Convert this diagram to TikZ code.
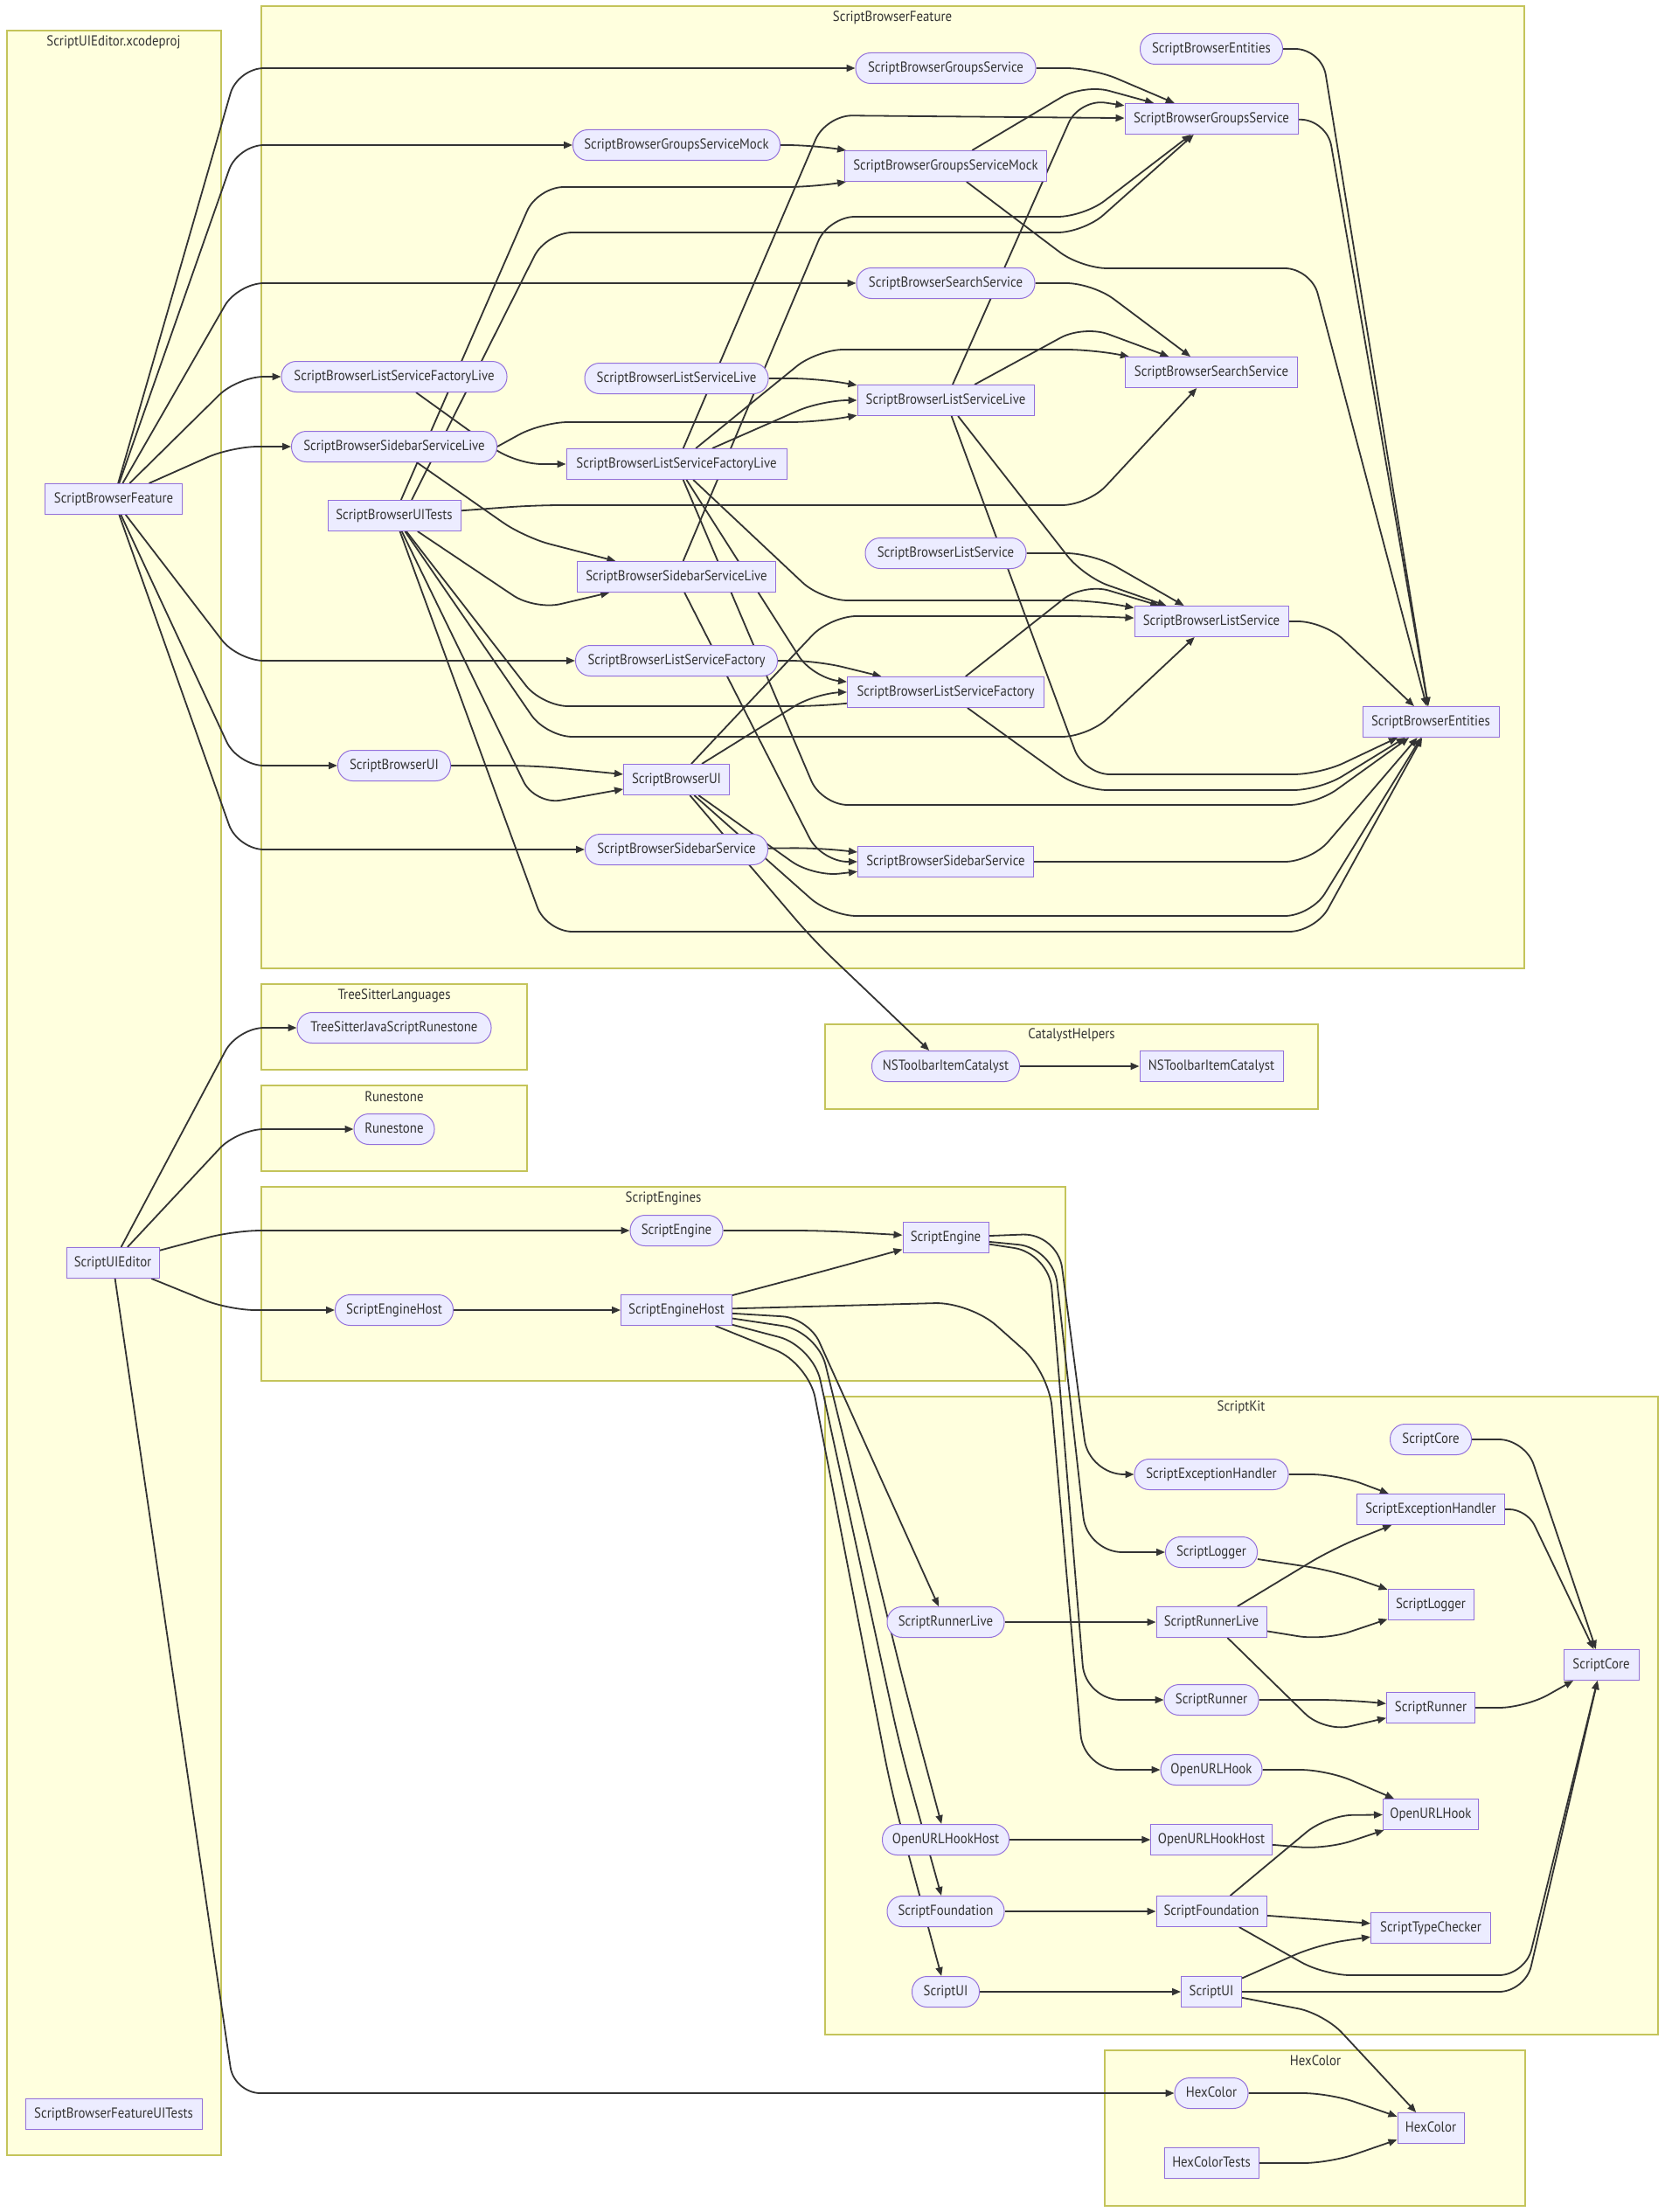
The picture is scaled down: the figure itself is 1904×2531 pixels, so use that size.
\documentclass[tikz,border=0pt]{standalone}
\usepackage{fontspec}
\setmainfont{PT Sans}[FakeStretch=0.9]
\usetikzlibrary{arrows.meta}
\definecolor{nodefill}{HTML}{ECECFF}
\definecolor{nodedraw}{HTML}{9370DB}
\definecolor{txt}{HTML}{333333}
\definecolor{edgec}{HTML}{333333}
\definecolor{clfill}{HTML}{FFFFDE}
\definecolor{cldraw}{HTML}{C4C45A}
\pgfdeclarelayer{cl}
\pgfdeclarelayer{ed}
\pgfsetlayers{cl,ed,main}
\begin{document}
\begin{tikzpicture}[x=1pt,y=-1pt,
  base/.style={draw=nodedraw, fill=nodefill, line width=1pt, text=txt, font=\fontsize{16.5}{19}\selectfont, minimum height=35pt, inner ysep=0pt, text height=12pt, text depth=3.5pt},
  tg/.style={base, inner xsep=8pt},
  pr/.style={base, rounded corners=17pt, inner xsep=11pt},
  e/.style={draw=edgec, line width=1.8pt, rounded corners=30pt, -{Triangle[length=10pt,width=8pt]}},
  clbox/.style={draw=cldraw, fill=clfill, line width=1.3pt},
  ttl/.style={text=txt, font=\fontsize{16.5}{19}\selectfont, inner sep=0pt}
]
\useasboundingbox (0,0) rectangle (1904,2531);
\begin{pgfonlayer}{cl}
\fill[white] (0,0) rectangle (1904,2531);
\draw[clbox] (8,35) rectangle (253,2466);
\draw[clbox] (299,7) rectangle (1744,1108);
\draw[clbox] (299,1126) rectangle (603,1224);
\draw[clbox] (299,1242) rectangle (603,1340);
\draw[clbox] (944,1172) rectangle (1508,1269);
\draw[clbox] (299,1358) rectangle (1219,1580);
\draw[clbox] (944,1598) rectangle (1897,2328);
\draw[clbox] (1264,2346) rectangle (1745,2524);
\end{pgfonlayer}
% cluster titles
\node[ttl] (ttlX) at (130,48) {ScriptUIEditor.xcodeproj};
\node[ttl] (ttlSBF) at (1021,20) {ScriptBrowserFeature};
\node[ttl] (ttlTSL) at (451,1139) {TreeSitterLanguages};
\node[ttl] (ttlRS) at (451,1255) {Runestone};
\node[ttl] (ttlCH) at (1226,1184) {CatalystHelpers};
\node[ttl] (ttlSE) at (759,1371) {ScriptEngines};
\node[ttl] (ttlSK) at (1420,1610) {ScriptKit};
\node[ttl] (ttlHC) at (1505,2358) {HexColor};

% project nodes
\node[tg, minimum width=157pt] (tFeat) at (130,571) {ScriptBrowserFeature};
\node[tg, minimum width=106pt] (tUIE) at (129,1445) {ScriptUIEditor};
\node[tg, minimum width=202pt] (tFUIT) at (130,2419) {ScriptBrowserFeatureUITests};

% ScriptBrowserFeature
\node[pr, minimum width=206pt] (pGS) at (1082,78) {ScriptBrowserGroupsService};
\node[pr, minimum width=163pt] (pEnt) at (1386,56) {ScriptBrowserEntities};
\node[tg, minimum width=198pt] (tGS) at (1386,136) {ScriptBrowserGroupsService};
\node[pr, minimum width=237pt] (pMock) at (774,166) {ScriptBrowserGroupsServiceMock};
\node[tg, minimum width=231pt] (tMock) at (1082,190) {ScriptBrowserGroupsServiceMock};
\node[pr, minimum width=204pt] (pSS) at (1082,324) {ScriptBrowserSearchService};
\node[tg, minimum width=197pt] (tSS) at (1386,426) {ScriptBrowserSearchService};
\node[pr, minimum width=258pt] (pLSFL) at (451,431) {ScriptBrowserListServiceFactoryLive};
\node[pr, minimum width=210pt] (pLSL) at (774,433) {ScriptBrowserListServiceLive};
\node[tg, minimum width=202pt] (tLSL) at (1082,458) {ScriptBrowserListServiceLive};
\node[pr, minimum width=235pt] (pSSL) at (451,511) {ScriptBrowserSidebarServiceLive};
\node[tg, minimum width=252pt] (tLSFL) at (774,531) {ScriptBrowserListServiceFactoryLive};
\node[tg, minimum width=152pt] (tUITests) at (451,590) {ScriptBrowserUITests};
\node[pr, minimum width=184pt] (pLS) at (1082,633) {ScriptBrowserListService};
\node[tg, minimum width=227pt] (tSSL) at (774,660) {ScriptBrowserSidebarServiceLive};
\node[tg, minimum width=176pt] (tLS) at (1386,711) {ScriptBrowserListService};
\node[pr, minimum width=231pt] (pLSF) at (774,756) {ScriptBrowserListServiceFactory};
\node[tg, minimum width=225pt] (tLSF) at (1082,792) {ScriptBrowserListServiceFactory};
\node[tg, minimum width=156pt] (tEnt) at (1637,826) {ScriptBrowserEntities};
\node[pr, minimum width=129pt] (pUI) at (451,876) {ScriptBrowserUI};
\node[tg, minimum width=121pt] (tUI) at (774,892) {ScriptBrowserUI};
\node[pr, minimum width=209pt] (pSBS) at (774,972) {ScriptBrowserSidebarService};
\node[tg, minimum width=201pt] (tSBS) at (1082,986) {ScriptBrowserSidebarService};

% small clusters
\node[pr, minimum width=222pt] (pTSJR) at (451,1176) {TreeSitterJavaScriptRunestone};
\node[pr, minimum width=92pt] (pRune) at (451,1292) {Runestone};
\node[pr, minimum width=169pt] (pNSTC) at (1082,1220) {NSToolbarItemCatalyst};
\node[tg, minimum width=164pt] (tNSTC) at (1386,1220) {NSToolbarItemCatalyst};

% ScriptEngines
\node[pr, minimum width=106pt] (pSE) at (774,1408) {ScriptEngine};
\node[tg, minimum width=98pt] (tSE) at (1082,1416) {ScriptEngine};
\node[pr, minimum width=135pt] (pSEH) at (451,1499) {ScriptEngineHost};
\node[tg, minimum width=127pt] (tSEH) at (774,1499) {ScriptEngineHost};

% ScriptKit
\node[pr, minimum width=93pt] (pSC) at (1637,1647) {ScriptCore};
\node[pr, minimum width=176pt] (pSEHnd) at (1386,1687) {ScriptExceptionHandler};
\node[tg, minimum width=169pt] (tSEHnd) at (1637,1727) {ScriptExceptionHandler};
\node[pr, minimum width=105pt] (pSLog) at (1386,1776) {ScriptLogger};
\node[tg, minimum width=98pt] (tSLog) at (1637,1836) {ScriptLogger};
\node[pr, minimum width=134pt] (pSRL) at (1082,1856) {ScriptRunnerLive};
\node[tg, minimum width=126pt] (tSRL) at (1386,1856) {ScriptRunnerLive};
\node[tg, minimum width=86pt] (tSC) at (1832,1905) {ScriptCore};
\node[pr, minimum width=108pt] (pSRun) at (1386,1945) {ScriptRunner};
\node[tg, minimum width=101pt] (tSRun) at (1637,1954) {ScriptRunner};
\node[pr, minimum width=116pt] (pOUH) at (1386,2025) {OpenURLHook};
\node[tg, minimum width=108pt] (tOUH) at (1637,2076) {OpenURLHook};
\node[pr, minimum width=145pt] (pOUHH) at (1082,2105) {OpenURLHookHost};
\node[tg, minimum width=137pt] (tOUHH) at (1386,2105) {OpenURLHookHost};
\node[pr, minimum width=134pt] (pSF) at (1082,2187) {ScriptFoundation};
\node[tg, minimum width=126pt] (tSF) at (1386,2187) {ScriptFoundation};
\node[tg, minimum width=137pt] (tSTC) at (1637,2206) {ScriptTypeChecker};
\node[pr, minimum width=77pt] (pSUI) at (1082,2279) {ScriptUI};
\node[tg, minimum width=69pt] (tSUI) at (1386,2279) {ScriptUI};

% HexColor
\node[pr, minimum width=84pt] (pHC) at (1386,2395) {HexColor};
\node[tg, minimum width=76pt] (tHC) at (1637,2435) {HexColor};
\node[tg, minimum width=108pt] (tHCT) at (1386,2475) {HexColorTests};

\begin{pgfonlayer}{ed}
% ScriptBrowserFeature project
\draw[e] (tFeat) -- (272,78) -- (pGS);
\draw[e] (tFeat) -- (272,166) -- (pMock);
\draw[e] (tFeat) -- (272,324) -- (pSS);
\draw[e] (tFeat) -- (272,431) -- (pLSFL);
\draw[e] (tFeat) -- (265,511) -- (pSSL);
\draw[e] (tFeat) -- (272,756) -- (pLSF);
\draw[e] (tFeat) -- (272,876) -- (pUI);
\draw[e] (tFeat) -- (272,972) -- (pSBS);
% ScriptUIEditor
\draw[e] (tUIE) -- (272,1176) -- (pTSJR);
\draw[e] (tUIE) -- (272,1292) -- (pRune);
\draw[e] (tUIE) -- (268,1408) -- (pSE);
\draw[e] (tUIE) -- (262,1499) -- (pSEH);
\draw[e] (tUIE) -- (268,2395) -- (pHC);
% products to targets
\draw[e] (pGS) -- (1250,78) -- (tGS);
\draw[e] (pEnt) -- (1512,56) -- (tEnt);
\draw[e] (pMock) -- (930,166) -- (tMock);
\draw[e] (pSS) -- (1250,324) -- (tSS);
\draw[e] (pLSFL) -- (590,531) -- (tLSFL);
\draw[e] (pLSL) -- (935,433) -- (tLSL);
\draw[e] (pSSL) -- (600,615) -- (tSSL);
\draw[e] (pLS) -- (1250,633) -- (tLS);
\draw[e] (pLSF) -- (935,756) -- (tLSF);
\draw[e] (pUI) -- (612,876) -- (tUI);
\draw[e] (pSBS) -- (935,970) -- (tSBS);
% targets
\draw[e] (tGS) -- (1518,137) -- (tEnt);
\draw[e] (tMock) -- (1240,96) -- (tGS);
\draw[e] (tMock) -- (1237,307) -- (1500,307) -- (tEnt);
\draw[e] (tLSL) -- (1235,113) -- (tGS);
\draw[e] (tLSL) -- (1240,372) -- (tSS);
\draw[e] (tLSL) -- (1240,660) -- (tLS);
\draw[e] (tLSL) -- (1240,886) -- (1510,886) -- (tEnt);
\draw[e] (tLSFL) -- (945,132) -- (tGS);
\draw[e] (tLSFL) -- (935,400) -- (1250,400) -- (tSS);
\draw[e] (tLSFL) -- (940,458) -- (tLSL);
\draw[e] (tLSFL) -- (940,687) -- (1250,687) -- (tLS);
\draw[e] (tLSFL) -- (930,776) -- (tLSF);
\draw[e] (tLSFL) -- (940,921) -- (1505,921) -- (tEnt);
\draw[e] (pSSL.east) -- (620,483) -- (935,483) -- (tLSL);
\draw[e] (tSSL) -- (948,248) -- (1240,248) -- (tGS);
\draw[e] (tSSL) -- (940,986) -- (tSBS);
\draw[e] (tLS) -- (1515,711) -- (tEnt);
\draw[e] (tLSF) -- (1240,667) -- (tLS);
\draw[e] (tLSF) -- (1237,904) -- (1510,904) -- (tEnt);
\draw[e] (tUI) -- (950,705) -- (1250,705) -- (tLS);
\draw[e] (tUI) -- (935,792) -- (tLSF);
\draw[e] (tUI) -- (930,1003) -- (tSBS);
\draw[e] (tUI) -- (950,1048) -- (1500,1048) -- (tEnt);
\draw[e] (tUI) -- (930,1075) -- (pNSTC);
\draw[e] (tSBS) -- (1500,986) -- (tEnt);
% UI tests
\draw[e] (tUITests) -- (615,214) -- (930,214) -- (tMock);
\draw[e] ([xshift=20pt]tUITests.north) -- (625,266) -- (1240,266) -- (tGS);
\draw[e] (tUITests) -- (612,578) -- (1245,578) -- (tSS);
\draw[e] (tUITests) -- (612,698) -- (tSSL);
\draw[e] (tUITests) -- (620,808) -- (940,808) -- (tLSF);
\draw[e] (tUITests) -- (625,843) -- (1245,843) -- (tLS);
\draw[e] (tUITests) -- (612,921) -- (tUI);
\draw[e] (tUITests) -- (625,1066) -- (1505,1066) -- (tEnt);
% Catalyst
\draw[e] (pNSTC) -- (tNSTC);
% ScriptEngines
\draw[e] (pSE) -- (940,1408) -- (tSE);
\draw[e] (pSEH) -- (tSEH);
\draw[e] (tSEH) -- (940,1455) -- (tSE);
\draw[e, rounded corners=40pt] (tSE) -- (1210,1411) -- (1246,1687) -- (pSEHnd);
\draw[e, rounded corners=40pt] (tSE) -- (1205,1428) -- (1244,1776) -- (pSLog);
\draw[e, rounded corners=40pt] (tSE) -- (1200,1434) -- (1242,1945) -- (pSRun);
\draw[e, rounded corners=40pt] (tSEH) -- (1110,1490) -- (1200,1570) -- (1240,2025) -- (pOUH);
\draw[e] (tSEH) -- (925,1508) -- (pSRL);
\draw[e, rounded corners=40pt] (tSEH) -- (935,1523) -- (1035,1930) -- (pOUHH);
\draw[e, rounded corners=40pt] (tSEH) -- (930,1540) -- (1030,2000) -- (pSF);
\draw[e, rounded corners=40pt] (tSEH) -- (925,1560) -- (1020,2050) -- (pSUI);
% ScriptKit
\draw[e] (pSC) -- (1745,1647) -- (tSC);
\draw[e] (pSEHnd) -- (1530,1687) -- (tSEHnd);
\draw[e, rounded corners=20pt] (tSEHnd) -- (1747,1727) -- (tSC);
\draw[e] (pSLog) -- (1525,1797) -- (tSLog);
\draw[e] (pSRL) -- (tSRL);
\draw[e] (tSRL) -- (1525,1772) -- (tSEHnd);
\draw[e] (tSRL) -- (1515,1877) -- (tSLog);
\draw[e] (tSRL) -- (1515,1982) -- (tSRun);
\draw[e] (pSRun) -- (1540,1945) -- (tSRun);
\draw[e] (tSRun) -- (1745,1954) -- (tSC);
\draw[e] (pOUH) -- (1518,2025) -- (tOUH);
\draw[e] (pOUHH) -- (tOUHH);
\draw[e] (tOUHH) -- (1518,2116) -- (tOUH);
\draw[e] (pSF) -- (tSF);
\draw[e] (tSF) -- (1518,2077) -- (tOUH);
\draw[e] (tSF) -- (tSTC);
\draw[e] (tSF) -- (1515,2260) -- (1745,2260) -- (tSC);
\draw[e] (pSUI) -- (tSUI);
\draw[e] (tSUI) -- (1508,2225) -- (tSTC);
\draw[e] (tSUI) -- (1745,2279) -- (tSC);
\draw[e] (tSUI) -- (1515,2304) -- (tHC);
% HexColor
\draw[e] (pHC) -- (1521,2395) -- (tHC);
\draw[e] (tHCT) -- (1521,2475) -- (tHC);
\end{pgfonlayer}
\end{tikzpicture}
\end{document}
